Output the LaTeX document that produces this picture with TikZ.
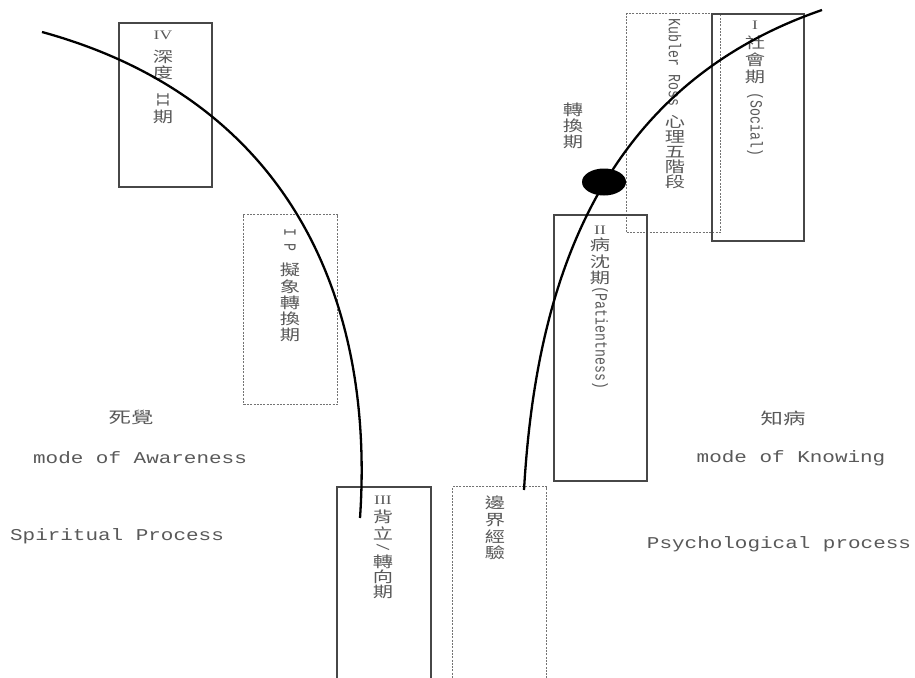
\documentclass[tikz,border=0pt]{standalone}
\usepackage{fontspec}
\usepackage{graphicx}
\usetikzlibrary{shapes.geometric}
\newfontfamily\cjk{Noto Sans CJK TC}
\newfontfamily\mono{Liberation Mono}
\newfontfamily\rom{Liberation Serif}
\newcommand\hs[1]{\scalebox{1.35}[1]{#1}}
\newcommand\hl[1]{\scalebox{1.4}[1]{#1}}
\newcommand\he[1]{\scalebox{1.27}[1]{#1}}
\newcommand\vs[1]{\scalebox{1}[1.3]{#1}}
\begin{document}
\begin{tikzpicture}[x=1pt,y=-1pt,
 solidbox/.style={draw=black!72, line width=1.6pt, anchor=north west, inner sep=0pt},
 dashbox/.style={draw=black!55, line width=1.2pt, dash pattern=on 2pt off 1.3pt, anchor=north west, inner sep=0pt},
 lbl/.style={text=black!65, inner sep=0pt},
 ch/.style={lbl, font=\cjk\fontsize{15}{16}\selectfont},
 chl/.style={lbl, font=\cjk\fontsize{16}{17}\selectfont},
 rm/.style={lbl, font=\rom\fontsize{13}{14}\selectfont},
 rl/.style={lbl, rotate=-90, font=\mono\fontsize{13.2}{14}\selectfont},
 en/.style={lbl, font=\mono\fontsize{16.5}{18}\selectfont},
 curve/.style={draw=black, line width=2.3pt},
]
\useasboundingbox (0,0) rectangle (915,677);
% boxes
\node[solidbox, minimum width=93pt, minimum height=164pt] (b4) at (118,22) {};
\node[dashbox, minimum width=94pt, minimum height=190pt] (bip) at (243,214) {};
\node[dashbox, minimum width=94pt, minimum height=219pt] (bk) at (626,13) {};
\node[solidbox, minimum width=92pt, minimum height=227pt] (b1) at (711,13) {};
\node[solidbox, minimum width=93pt, minimum height=266pt] (b2) at (553,214) {};
\node[solidbox, minimum width=94pt, minimum height=210pt] (b3) at (336,486) {};
\node[dashbox, minimum width=94pt, minimum height=210pt] (bb) at (452,486) {};
% IV box
\node[rm] (t4a) at (163,35) {\hs{IV}};
\node[ch] (t4b) at (163,57) {\hs{深}};
\node[ch] (t4c) at (163,73) {\hs{度}};
\node[rl] (t4d) at (163,100) {\vs{II}};
\node[ch] (t4e) at (163,117) {\hs{期}};
% IP box
\node[rl] (tpa) at (290,240) {\vs{I~P}};
\node[ch] (tpb) at (290,270) {\hs{擬}};
\node[ch] (tpc) at (290,287) {\hs{象}};
\node[ch] (tpd) at (290,303) {\hs{轉}};
\node[ch] (tpe) at (290,319) {\hs{換}};
\node[ch] (tpf) at (290,335) {\hs{期}};
% Kubler box
\node[rl] (tka) at (675,62.5) {\vs{Kubler Ross}};
\node[ch] (tkb) at (675,122) {\hs{心}};
\node[ch] (tkc) at (675,137) {\hs{理}};
\node[ch] (tkd) at (675,152) {\hs{五}};
\node[ch] (tke) at (675,167) {\hs{階}};
\node[ch] (tkf) at (675,182) {\hs{段}};
% I box
\node[rm] (t1a) at (755,25) {\hs{I}};
\node[ch] (t1b) at (755,43) {\hs{社}};
\node[ch] (t1c) at (755,60) {\hs{會}};
\node[ch] (t1d) at (755,77) {\hs{期}};
\node[rl] (t1e) at (755,124.5) {\vs{(Social)}};
% II box
\node[rm] (t2a) at (600,230) {\hs{II}};
\node[ch] (t2b) at (600,245) {\hs{病}};
\node[ch] (t2c) at (600,262) {\hs{沈}};
\node[ch] (t2d) at (600,278) {\hs{期}};
\node[rl] (t2e) at (600,337.5) {\vs{(Patientness)}};
% III box
\node[rm] (t3a) at (383,500) {\hs{III}};
\node[ch] (t3b) at (383,517) {\hs{背}};
\node[ch] (t3c) at (383,533) {\hs{立}};
\node[rl] (t3d) at (383,547) {\vs{/}};
\node[ch] (t3e) at (383,562) {\hs{轉}};
\node[ch] (t3f) at (383,577) {\hs{向}};
\node[ch] (t3g) at (383,592) {\hs{期}};
% boundary box
\node[ch] (tba) at (495,503) {\hs{邊}};
\node[ch] (tbb) at (495,520) {\hs{界}};
\node[ch] (tbc) at (495,537) {\hs{經}};
\node[ch] (tbd) at (495,553) {\hs{驗}};
% transition label
\node[ch] (tza) at (573,110) {\hs{轉}};
\node[ch] (tzb) at (573,126) {\hs{換}};
\node[ch] (tzc) at (573,142) {\hs{期}};
% horizontal labels
\node[chl] (ld) at (131,417) {\hl{死覺}};
\node[en] (la) at (140,458) {\he{mode of Awareness}};
\node[en] (ls) at (117,536) {\he{Spiritual Process}};
\node[chl] (lk) at (783,418) {\hl{知病}};
\node[en] (lm) at (791,458) {\he{mode of Knowing}};
\node[en] (lp) at (779,544) {\he{Psychological process}};
% curves
\coordinate (ls0) at (42,32);
\coordinate (ls1) at (360,518);
\draw[curve] (ls0) .. controls (290,100) and (375,300) .. (ls1);
\coordinate (rs0) at (524,490);
\coordinate (rs1) at (822,10);
\draw[curve] (rs0) .. controls (535,300) and (590,90) .. (rs1);
\node[ellipse, fill=black, minimum width=44pt, minimum height=27pt, inner sep=0pt] (dot) at (604,182) {};
\end{tikzpicture}
\end{document}
